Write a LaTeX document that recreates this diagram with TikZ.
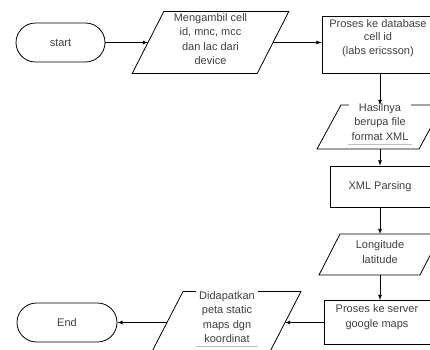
\documentclass[tikz,border=0pt]{standalone}
\usepackage{fontspec}
\setmainfont{Liberation Sans}

% parallelogram drawn round an (invisible) node: name, half slant
\newcommand{\ioshape}[2]{\draw ([xshift=-#2]#1.south west) -- ([xshift=#2]#1.north west) -- ([xshift=#2]#1.north east) -- ([xshift=-#2]#1.south east) -- cycle;}

\begin{document}
\begin{tikzpicture}[x=1pt,y=-1pt,>=latex,line width=0.8pt,
    terminal/.style={draw, rectangle, rounded corners=19.5pt, minimum height=39pt, inner sep=0pt, text=black!75, font=\fontsize{11}{14.5}\selectfont},
    process/.style={draw, rectangle, inner sep=0pt, align=center, text=black!75, font=\fontsize{11}{14.5}\selectfont},
    io/.style={rectangle, inner sep=0pt, outer sep=0pt},
    txt/.style={align=center, text=black!75, font=\fontsize{11}{14.5}\selectfont, inner sep=3pt}]
            \clip (0,0) rectangle (430,349);
            \fill[white] (0,0) rectangle (430,349);

            % Terminals
            \node[terminal, minimum width=89pt] (start) at (60.5,42.5) {start};
            \node[terminal, minimum width=100pt] (end) at (67,322.5) {End};

            % Processes
            \node[process, minimum width=116pt, minimum height=57pt] (db) at (380,44.5) {};
            \node[process, minimum width=100pt, minimum height=41pt] (xml) at (380,186.5) {XML Parsing};
            \node[process, minimum width=112pt, minimum height=44pt] (server) at (380,322.5) {};

            % Input / output
            \node[io, minimum width=125pt, minimum height=62pt] (cellid) at (210.5,42.5) {};
            \node[io, minimum width=102pt, minimum height=44pt] (hasil) at (380,127) {};
            \node[io, minimum width=101pt, minimum height=41pt] (lonlat) at (380,254.5) {};
            \node[io, minimum width=118pt, minimum height=62pt] (peta) at (226,322.5) {};
            \ioshape{cellid}{15.8pt}
            \ioshape{hasil}{12pt}
            \ioshape{lonlat}{10.5pt}
            \ioshape{peta}{16pt}

            % Texts
            \node[txt] (tcellid) at (210.5,39) {Mengambil cell\\id, mnc, mcc\\dan lac dari\\device};
            \node[txt, font=\fontsize{11}{13.8}\selectfont] (tdb) at (378,38) {Proses ke database\\cell id\\(labs ericsson)};
            \node[txt, fill=white] (thasil) at (380,122) {Hasilnya\\berupa file\\format XML};
            \node[txt] (tlonlat) at (380,252) {Longitude\\latitude};
            \node[txt] (tserver) at (377,317) {Proses ke server\\google maps};
            \node[txt, fill=white] (tpeta) at (227,317) {Didapatkan\\peta static\\maps dgn\\koordinat};
            \draw[black!25] (thasil.south west) -- (thasil.south east);
            \draw[black!25] (tpeta.south west) -- (tpeta.south east);

            % Flow
            \draw[->] (start) -- (cellid);
            \draw[->] (cellid) -- (cellid -| db.west);
            \draw[->] (db) -- (hasil);
            \draw[->] (hasil) -- (xml);
            \draw[->] (xml) -- (lonlat);
            \draw[->] (lonlat) -- (server);
            \draw[->] (server) -- (peta);
            \draw[->] (peta) -- (end);
\end{tikzpicture}
\end{document}
